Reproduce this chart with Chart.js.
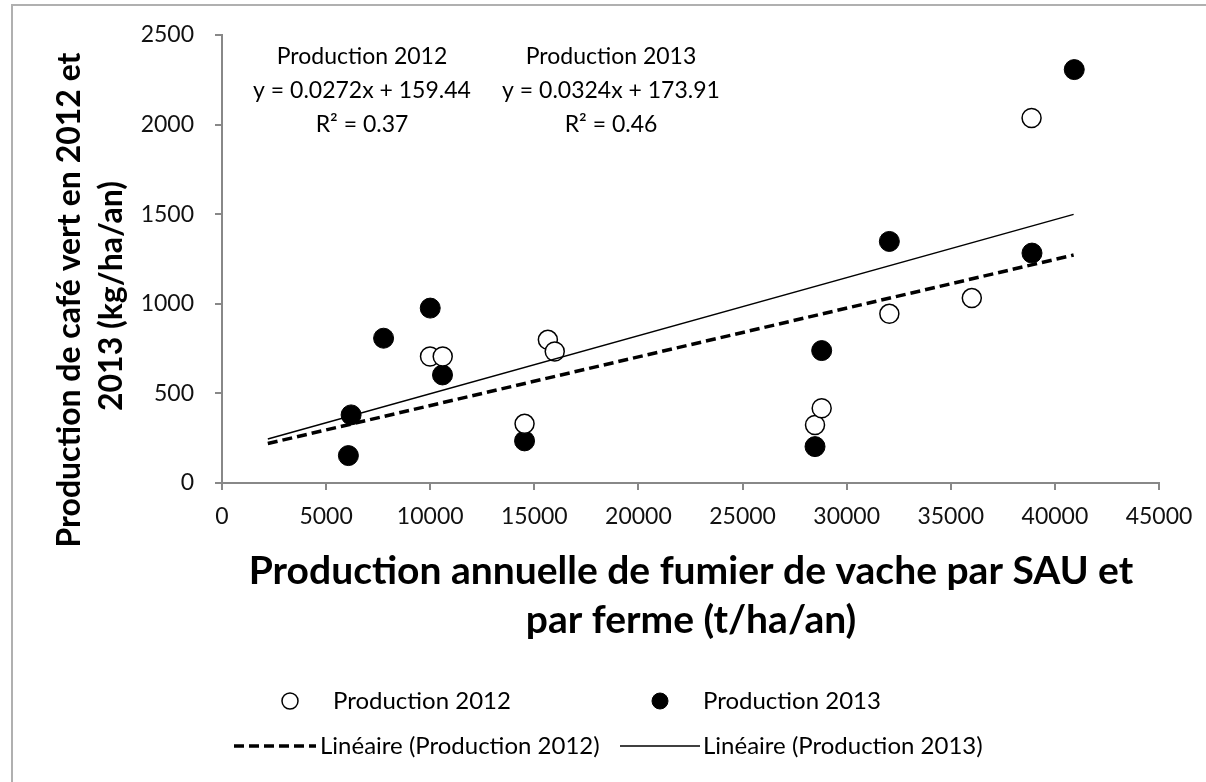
<!DOCTYPE html>
<html>
<head>
<meta charset="utf-8">
<script src="https://cdn.jsdelivr.net/npm/chart.js@4.4.0/dist/chart.umd.min.js"></script>
<style>
  html, body { margin: 0; padding: 0; background: #fff; }
  #wrap { width: 1206px; height: 782px; position: relative; }
</style>
</head>
<body>
<div id="wrap"><canvas id="fumierChart" width="1206" height="782"></canvas></div>
<script>
/* Production de café vs fumier de vache - nuage de points + tendances */

// --- données ---
const fumier2012 = [9990, 10600, 15650, 15980, 14530, 28480, 28800, 32050, 36010, 38880];
const cafe2012   = [706, 706, 799, 734, 330, 324, 417, 944, 1032, 2037];

const fumier2013 = [6070, 6200, 7760, 10000, 10590, 14530, 28480, 28800, 32050, 38900, 40930];
const cafe2013   = [153, 380, 808, 976, 603, 235, 203, 739, 1348, 1283, 2307];

// extrémités des droites de tendance (Excel)
const trendX     = [2200, 40900];
const trend2012Y = [220, 1272];
const trend2013Y = [245, 1499];

const xTicks = [0, 5000, 10000, 15000, 20000, 25000, 30000, 35000, 40000, 45000];
const yTicks = [0, 500, 1000, 1500, 2000, 2500];

const equations = [
    { x: 362, lines: ['Production 2012', 'y = 0.0272x + 159.44', 'R² = 0.37'] },
    { x: 611, lines: ['Production 2013', 'y = 0.0324x + 173.91', 'R² = 0.46'] }
];

const FONT = 'Lato, "Open Sans", sans-serif';
const AXIS_GREY = '#888888';

function toPoints(xs, ys) {
    return xs.map((x, i) => ({ x: x, y: ys[i] }));
}

// titres, équations, légende et cadre dessinés à la main
const decorPlugin = {
    id: 'decor',
    beforeDraw(chart) {
        const ctx = chart.ctx;
        ctx.save();
        ctx.fillStyle = '#fff';
        ctx.fillRect(0, 0, chart.width, chart.height);
        ctx.strokeStyle = '#b0b0b0';
        ctx.lineWidth = 2;
        ctx.strokeRect(12, 5, chart.width + 20, chart.height + 20);
        ctx.restore();
    },
    afterDraw(chart) {
        const ctx = chart.ctx;
        ctx.save();
        ctx.fillStyle = '#000';
        ctx.textAlign = 'center';
        ctx.textBaseline = 'middle';

        // équations de tendance
        ctx.font = '23px ' + FONT;
        equations.forEach(eq => {
            eq.lines.forEach((txt, i) => ctx.fillText(txt, eq.x, 57 + i * 34));
        });

        // titre axe x
        ctx.font = 'bold 39px ' + FONT;
        ctx.fillText('Production annuelle de fumier de vache par SAU et', 691, 571);
        ctx.fillText('par ferme (t/ha/an)', 691, 620);

        // titre axe y
        ctx.save();
        ctx.translate(70, 300);
        ctx.rotate(-Math.PI / 2);
        ctx.font = 'bold 32px ' + FONT;
        ctx.fillText('Production de café vert en 2012 et', 0, 0);
        ctx.fillText('2013 (kg/ha/an)', 4, 42);
        ctx.restore();

        // légende
        ctx.textAlign = 'left';
        ctx.font = '24px ' + FONT;
        const ds = chart.data.datasets;
        // marqueurs
        [[ds[0], 290, 701], [ds[1], 660, 701]].forEach(([d, x, y]) => {
            ctx.beginPath();
            ctx.arc(x, y, 8, 0, Math.PI * 2);
            ctx.fillStyle = d.pointBackgroundColor;
            ctx.fill();
            ctx.lineWidth = d.pointBorderWidth;
            ctx.strokeStyle = d.pointBorderColor;
            ctx.stroke();
        });
        ctx.fillStyle = '#000';
        ctx.fillText(ds[0].label, 333, 701);
        ctx.fillText(ds[1].label, 703, 701);
        // traits
        [[ds[2], 234, 316], [ds[3], 620, 700]].forEach(([d, x0, x1]) => {
            ctx.beginPath();
            ctx.setLineDash(d.borderDash || []);
            ctx.lineWidth = d.borderWidth;
            ctx.strokeStyle = d.borderColor;
            ctx.moveTo(x0, 746);
            ctx.lineTo(x1, 746);
            ctx.stroke();
        });
        ctx.setLineDash([]);
        ctx.fillText(ds[2].label, 320, 746);
        ctx.fillText(ds[3].label, 703, 746);
        ctx.restore();
    }
};

const ctx = document.getElementById('fumierChart').getContext('2d');

new Chart(ctx, {
    type: 'scatter',
    data: {
        datasets: [
            {
                label: 'Production 2012',
                data: toPoints(fumier2012, cafe2012),
                pointRadius: 9.5,
                pointBackgroundColor: '#ffffff',
                pointBorderColor: '#000000',
                pointBorderWidth: 1.5,
                order: 2
            },
            {
                label: 'Production 2013',
                data: toPoints(fumier2013, cafe2013),
                pointRadius: 10,
                pointBackgroundColor: '#000000',
                pointBorderColor: '#000000',
                pointBorderWidth: 1,
                order: 3
            },
            {
                label: 'Linéaire (Production 2012)',
                data: toPoints(trendX, trend2012Y),
                showLine: true,
                pointRadius: 0,
                borderColor: '#000000',
                borderWidth: 3.5,
                borderDash: [10, 5],
                order: 1
            },
            {
                label: 'Linéaire (Production 2013)',
                data: toPoints(trendX, trend2013Y),
                showLine: true,
                pointRadius: 0,
                borderColor: '#000000',
                borderWidth: 1.5,
                order: 1
            }
        ]
    },
    options: {
        responsive: false,
        animation: false,
        layout: { padding: { left: 0, top: 35, right: 47, bottom: 0 } },
        plugins: {
            legend: { display: false },
            tooltip: { enabled: false },
            title: { display: false }
        },
        scales: {
            x: {
                type: 'linear',
                min: 0,
                max: 45000,
                afterBuildTicks: (scale) => { scale.ticks = xTicks.map(v => ({ value: v })); },
                afterFit: (scale) => { scale.height = 299; },
                grid: { drawOnChartArea: false, drawTicks: true, tickLength: 7, color: AXIS_GREY, lineWidth: 2 },
                border: { color: AXIS_GREY, width: 2 },
                ticks: {
                    padding: 13,
                    color: '#111',
                    font: { family: FONT, size: 23 },
                    maxRotation: 0,
                    callback: (v) => String(v)
                }
            },
            y: {
                type: 'linear',
                min: 0,
                max: 2500,
                afterBuildTicks: (scale) => { scale.ticks = yTicks.map(v => ({ value: v })); },
                afterFit: (scale) => { scale.width = 222; },
                grid: { drawOnChartArea: false, drawTicks: true, tickLength: 7, color: AXIS_GREY, lineWidth: 2 },
                border: { color: AXIS_GREY, width: 2 },
                ticks: {
                    padding: 21,
                    color: '#111',
                    font: { family: FONT, size: 23 },
                    callback: (v) => String(v)
                }
            }
        }
    },
    plugins: [decorPlugin]
});
</script>
</body>
</html>
